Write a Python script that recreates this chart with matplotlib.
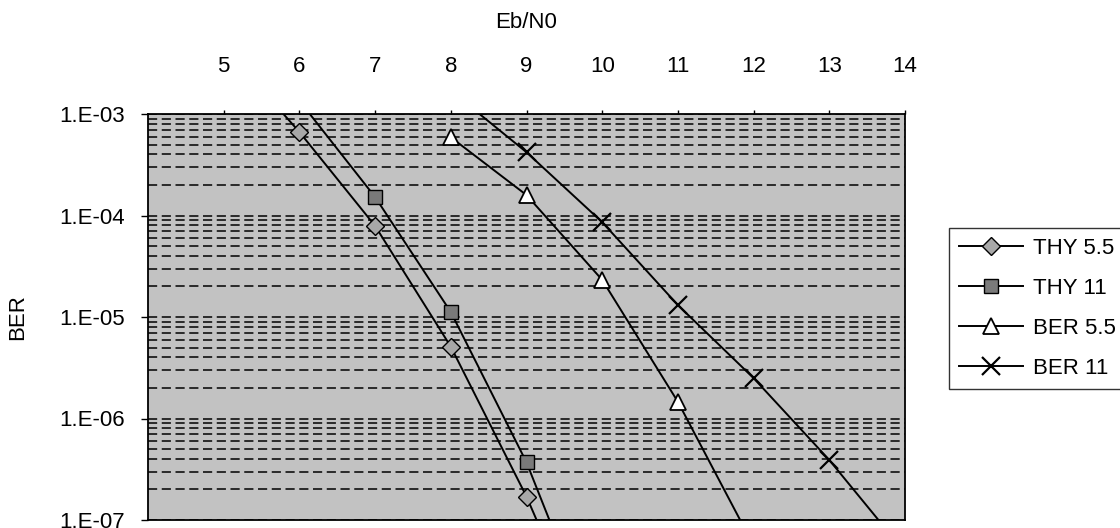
import matplotlib.pyplot as plt
from matplotlib.ticker import FixedLocator, FuncFormatter, LogLocator, NullFormatter

plt.rcParams['font.family'] = ['Liberation Sans', 'DejaVu Sans']

# BER curves
thy55_x = [5, 6, 7, 8, 9, 10]
thy55_y = [4.6e-3, 6.65e-4, 7.9e-5, 5.1e-6, 1.7e-7, 3.2e-9]
thy11_x = [6, 7, 8, 9, 10]
thy11_y = [1.35e-3, 1.52e-4, 1.12e-5, 3.7e-7, 4.9e-9]
ber55_x = [8, 9, 10, 11, 12]
ber55_y = [5.9e-4, 1.59e-4, 2.32e-5, 1.46e-6, 5.6e-8]
ber11_x = [8, 9, 10, 11, 12, 13, 14]
ber11_y = [1.7e-3, 4.2e-4, 8.6e-5, 1.31e-5, 2.5e-6, 3.9e-7, 4.8e-8]

x_ticks = [5, 6, 7, 8, 9, 10, 11, 12, 13, 14]
y_ticks = [1e-7, 1e-6, 1e-5, 1e-4, 1e-3]

fig = plt.figure(figsize=(11.2, 5.28), dpi=100)
ax = fig.add_axes([148/1120, 8/528, 757/1120, 406/528])
ax.set_facecolor('#c2c2c2')

ax.plot(thy55_x, thy55_y, color='black', lw=1.4, marker='D', ms=9,
        mfc='#a8a8a8', mec='black', mew=1.0, label='THY 5.5')
ax.plot(thy11_x, thy11_y, color='black', lw=1.4, marker='s', ms=10,
        mfc='#7a7a7a', mec='black', mew=1.0, label='THY 11')
ax.plot(ber55_x, ber55_y, color='black', lw=1.4, marker='^', ms=11,
        mfc='white', mec='black', mew=1.3, label='BER 5.5')
ax.plot(ber11_x, ber11_y, color='black', lw=1.4, marker='x', ms=13,
        mec='black', mew=1.6, label='BER 11')

ax.set_yscale('log')
ax.set_xlim(4, 14)
ax.set_ylim(1e-7, 1e-3)

ax.yaxis.set_major_locator(FixedLocator(y_ticks))
ax.yaxis.set_major_formatter(FuncFormatter(lambda v, p: '1.E-%02d' % round(-__import__('math').log10(v))))
ax.yaxis.set_minor_locator(LogLocator(base=10, subs=range(2, 10)))
ax.yaxis.set_minor_formatter(NullFormatter())
ax.tick_params(axis='y', which='major', direction='out', length=5, width=1, pad=12, labelsize=16)
ax.tick_params(axis='y', which='minor', length=0)

ax.xaxis.tick_top()
ax.xaxis.set_label_position('top')
ax.set_xticks(x_ticks)
ax.tick_params(axis='x', direction='out', length=3, width=1, pad=24, labelsize=16)

ax.grid(True, which='both', axis='y', color='black', lw=1.1, linestyle=(0, (6, 3)))
ax.set_axisbelow(True)
for s in ax.spines.values():
    s.set_color('black')
    s.set_linewidth(1.3)

ax.set_xlabel('Eb/N0', fontsize=16, labelpad=20)
ax.set_ylabel('BER', fontsize=16, labelpad=22)

leg = ax.legend(loc='upper left', bbox_to_anchor=(949/1120, 1 - 228/528),
                bbox_transform=fig.transFigure, fontsize=16, frameon=True,
                fancybox=False, edgecolor='black', borderaxespad=0,
                borderpad=0.45, handlelength=2.9, handletextpad=0.45,
                labelspacing=0.85)
leg.get_frame().set_linewidth(1.0)

fig.savefig('out.png', dpi=100)
